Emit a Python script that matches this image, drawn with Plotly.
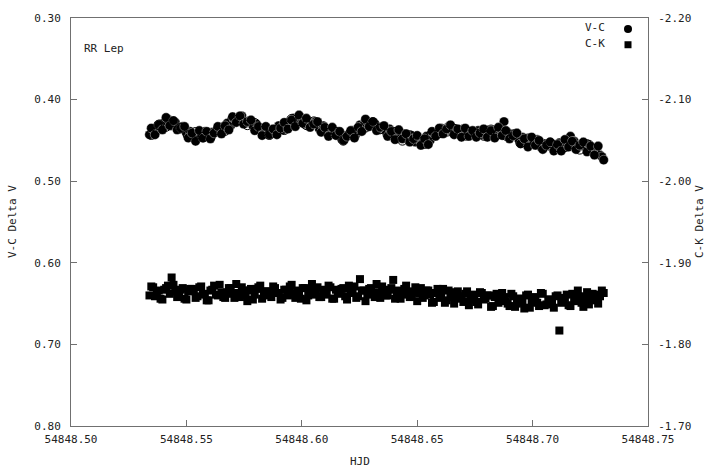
import plotly.graph_objects as go

# ---- data ----
hjd = [
    54848.5340, 54848.5356, 54848.5372, 54848.5388, 54848.5404, 54848.5420, 54848.5436, 54848.5452, 54848.5468, 54848.5484,
    54848.5500, 54848.5516, 54848.5532, 54848.5548, 54848.5564, 54848.5580, 54848.5596, 54848.5612, 54848.5628, 54848.5644,
    54848.5660, 54848.5676, 54848.5692, 54848.5708, 54848.5724, 54848.5740, 54848.5756, 54848.5772, 54848.5788, 54848.5804,
    54848.5820, 54848.5836, 54848.5852, 54848.5868, 54848.5884, 54848.5900, 54848.5916, 54848.5932, 54848.5948, 54848.5964,
    54848.5980, 54848.5996, 54848.6012, 54848.6028, 54848.6044, 54848.6060, 54848.6076, 54848.6092, 54848.6108, 54848.6124,
    54848.6140, 54848.6156, 54848.6172, 54848.6188, 54848.6204, 54848.6220, 54848.6236, 54848.6252, 54848.6268, 54848.6284,
    54848.6300, 54848.6316, 54848.6332, 54848.6348, 54848.6364, 54848.6380, 54848.6396, 54848.6412, 54848.6428, 54848.6444,
    54848.6460, 54848.6476, 54848.6492, 54848.6508, 54848.6524, 54848.6540, 54848.6556, 54848.6572, 54848.6588, 54848.6604,
    54848.6620, 54848.6636, 54848.6652, 54848.6668, 54848.6684, 54848.6700, 54848.6716, 54848.6732, 54848.6748, 54848.6764,
    54848.6780, 54848.6796, 54848.6812, 54848.6828, 54848.6844, 54848.6860, 54848.6876, 54848.6892, 54848.6908, 54848.6924,
    54848.6940, 54848.6956, 54848.6972, 54848.6988, 54848.7004, 54848.7020, 54848.7036, 54848.7052, 54848.7068, 54848.7084,
    54848.7100, 54848.7116, 54848.7132, 54848.7148, 54848.7164, 54848.7180, 54848.7196, 54848.7212, 54848.7228, 54848.7244,
    54848.7260, 54848.7276, 54848.7292, 54848.7300, 54848.7308,
]

vc_delta_v = [
    0.443, 0.436, 0.438, 0.430, 0.428, 0.424, 0.432, 0.428, 0.434, 0.433,
    0.441, 0.439, 0.447, 0.443, 0.444, 0.439, 0.446, 0.440, 0.440, 0.434,
    0.437, 0.429, 0.432, 0.424, 0.424, 0.420, 0.429, 0.426, 0.432, 0.430,
    0.438, 0.435, 0.443, 0.440, 0.439, 0.432, 0.437, 0.429, 0.429, 0.423,
    0.427, 0.422, 0.430, 0.427, 0.429, 0.427, 0.436, 0.432, 0.438, 0.436,
    0.442, 0.439, 0.448, 0.444, 0.444, 0.438, 0.442, 0.431, 0.431, 0.427,
    0.432, 0.429, 0.437, 0.434, 0.438, 0.436, 0.444, 0.440, 0.445, 0.442,
    0.448, 0.444, 0.452, 0.449, 0.450, 0.445, 0.450, 0.441, 0.441, 0.435,
    0.438, 0.433, 0.440, 0.436, 0.438, 0.436, 0.445, 0.440, 0.442, 0.438,
    0.443, 0.437, 0.444, 0.439, 0.440, 0.436, 0.427, 0.440, 0.444, 0.442,
    0.449, 0.446, 0.454, 0.450, 0.452, 0.449, 0.458, 0.454, 0.457, 0.454,
    0.459, 0.453, 0.459, 0.454, 0.445, 0.451, 0.459, 0.454, 0.458, 0.455,
    0.462, 0.459, 0.468, 0.470, 0.474,
]

ck_delta_v = [
    -1.860, -1.870, -1.863, -1.856, -1.867, -1.872, -1.882, -1.865, -1.862, -1.869, -1.855, -1.868,
    -1.866, -1.859, -1.871, -1.862, -1.854, -1.867, -1.861, -1.873, -1.858, -1.864, -1.869, -1.857,
    -1.863, -1.870, -1.860, -1.866, -1.855, -1.868, -1.872, -1.861, -1.865, -1.858, -1.869, -1.863,
    -1.857, -1.867, -1.871, -1.862, -1.866, -1.856, -1.869, -1.860, -1.874, -1.864, -1.858, -1.867,
    -1.861, -1.870, -1.856, -1.865, -1.868, -1.859, -1.872, -1.863, -1.857, -1.880, -1.866, -1.861,
    -1.869, -1.858, -1.864, -1.871, -1.860, -1.867, -1.879, -1.862, -1.856, -1.868, -1.865, -1.859,
    -1.870, -1.863, -1.857, -1.866, -1.861, -1.852, -1.868, -1.862, -1.851, -1.866, -1.858, -1.864,
    -1.859, -1.852, -1.865, -1.855, -1.861, -1.849, -1.863, -1.856, -1.860, -1.847, -1.862, -1.854,
    -1.858, -1.850, -1.862, -1.846, -1.856, -1.852, -1.860, -1.845, -1.857, -1.851, -1.863, -1.848,
    -1.855, -1.850, -1.859, -1.817, -1.853, -1.861, -1.847, -1.856, -1.866, -1.851, -1.858, -1.849,
    -1.862, -1.854, -1.859, -1.866, -1.863,
]

# second block of exposures, interleaved in time with the first
hjd_b = [
    54848.5348, 54848.5364, 54848.5380, 54848.5396, 54848.5412, 54848.5428, 54848.5444, 54848.5460, 54848.5476, 54848.5492,
    54848.5508, 54848.5524, 54848.5540, 54848.5556, 54848.5572, 54848.5588, 54848.5604, 54848.5620, 54848.5636, 54848.5652,
    54848.5668, 54848.5684, 54848.5700, 54848.5716, 54848.5732, 54848.5748, 54848.5764, 54848.5780, 54848.5796, 54848.5812,
    54848.5828, 54848.5844, 54848.5860, 54848.5876, 54848.5892, 54848.5908, 54848.5924, 54848.5940, 54848.5956, 54848.5972,
    54848.5988, 54848.6004, 54848.6020, 54848.6036, 54848.6052, 54848.6068, 54848.6084, 54848.6100, 54848.6116, 54848.6132,
    54848.6148, 54848.6164, 54848.6180, 54848.6196, 54848.6212, 54848.6228, 54848.6244, 54848.6260, 54848.6276, 54848.6292,
    54848.6308, 54848.6324, 54848.6340, 54848.6356, 54848.6372, 54848.6388, 54848.6404, 54848.6420, 54848.6436, 54848.6452,
    54848.6468, 54848.6484, 54848.6500, 54848.6516, 54848.6532, 54848.6548, 54848.6564, 54848.6580, 54848.6596, 54848.6612,
    54848.6628, 54848.6644, 54848.6660, 54848.6676, 54848.6692, 54848.6708, 54848.6724, 54848.6740, 54848.6756, 54848.6772,
    54848.6788, 54848.6804, 54848.6820, 54848.6836, 54848.6852, 54848.6868, 54848.6884, 54848.6900, 54848.6916, 54848.6932,
    54848.6948, 54848.6964, 54848.6980, 54848.6996, 54848.7012, 54848.7028, 54848.7044, 54848.7060, 54848.7076, 54848.7092,
    54848.7108, 54848.7124, 54848.7140, 54848.7156, 54848.7172, 54848.7188, 54848.7204, 54848.7220, 54848.7236, 54848.7252,
    54848.7268, 54848.7284,
]

vc_delta_v_b = [
    0.435, 0.443, 0.431, 0.437, 0.422, 0.432, 0.426, 0.437, 0.435, 0.433,
    0.447, 0.441, 0.451, 0.438, 0.447, 0.439, 0.448, 0.441, 0.433, 0.442,
    0.432, 0.437, 0.421, 0.428, 0.420, 0.430, 0.427, 0.425, 0.438, 0.433,
    0.444, 0.433, 0.443, 0.436, 0.443, 0.435, 0.428, 0.436, 0.425, 0.433,
    0.419, 0.429, 0.423, 0.434, 0.430, 0.427, 0.440, 0.434, 0.445, 0.434,
    0.444, 0.439, 0.450, 0.445, 0.438, 0.447, 0.434, 0.439, 0.424, 0.433,
    0.427, 0.438, 0.434, 0.432, 0.445, 0.439, 0.449, 0.437, 0.448, 0.442,
    0.452, 0.448, 0.444, 0.456, 0.448, 0.455, 0.439, 0.445, 0.435, 0.442,
    0.436, 0.431, 0.443, 0.436, 0.446, 0.435, 0.445, 0.438, 0.446, 0.441,
    0.436, 0.446, 0.438, 0.447, 0.434, 0.444, 0.438, 0.448, 0.444, 0.441,
    0.454, 0.448, 0.458, 0.446, 0.456, 0.450, 0.461, 0.456, 0.452, 0.463,
    0.455, 0.463, 0.449, 0.458, 0.451, 0.461, 0.456, 0.452, 0.464, 0.457,
    0.468, 0.457,
]

ck_delta_v_b = [
    -1.871, -1.859, -1.866, -1.855, -1.869, -1.862, -1.873, -1.858, -1.867, -1.856, -1.865,
    -1.868, -1.857, -1.870, -1.861, -1.854, -1.866, -1.872, -1.860, -1.863, -1.857, -1.869,
    -1.862, -1.874, -1.858, -1.866, -1.853, -1.868, -1.861, -1.870, -1.856, -1.865, -1.860,
    -1.871, -1.863, -1.855, -1.867, -1.860, -1.873, -1.857, -1.864, -1.869, -1.854, -1.866,
    -1.861, -1.870, -1.858, -1.865, -1.872, -1.856, -1.867, -1.862, -1.869, -1.855, -1.864,
    -1.871, -1.859, -1.866, -1.853, -1.868, -1.862, -1.874, -1.857, -1.865, -1.860, -1.869,
    -1.856, -1.866, -1.861, -1.872, -1.858, -1.864, -1.853, -1.869, -1.860, -1.866, -1.851,
    -1.863, -1.857, -1.868, -1.854, -1.861, -1.850, -1.865, -1.856, -1.862, -1.848, -1.859,
    -1.852, -1.864, -1.855, -1.860, -1.846, -1.858, -1.851, -1.863, -1.853, -1.847, -1.859,
    -1.850, -1.856, -1.844, -1.861, -1.852, -1.858, -1.847, -1.862, -1.849, -1.855, -1.845,
    -1.860, -1.851, -1.857, -1.848, -1.862, -1.853, -1.859, -1.846, -1.864, -1.855, -1.861, -1.850,
]

# V-C points that show as open rings around the filled ones
hjd_ring = [
    54848.5348, 54848.5380, 54848.5412, 54848.5444, 54848.5476, 54848.5508, 54848.5540, 54848.5572, 54848.5604, 54848.5636,
    54848.5668, 54848.5700, 54848.5732, 54848.5764, 54848.5796, 54848.5828, 54848.5860, 54848.5892, 54848.5924, 54848.5956,
    54848.5988, 54848.6020, 54848.6052, 54848.6084, 54848.6116, 54848.6148, 54848.6180, 54848.6212, 54848.6244, 54848.6276,
    54848.6308, 54848.6340, 54848.6372, 54848.6404, 54848.6436, 54848.6468, 54848.6500, 54848.6532, 54848.6564, 54848.6596,
    54848.6628, 54848.6660, 54848.6692, 54848.6724, 54848.6756, 54848.6788, 54848.6820, 54848.6852, 54848.6884, 54848.6916,
    54848.6948, 54848.6980, 54848.7012, 54848.7044, 54848.7076, 54848.7108, 54848.7140, 54848.7172, 54848.7204, 54848.7236,
    54848.7268,
]
vc_ring = [
    0.443, 0.431, 0.433, 0.427, 0.435, 0.444, 0.440, 0.446, 0.446, 0.437,
    0.438, 0.424, 0.425, 0.431, 0.429, 0.439, 0.443, 0.437, 0.437, 0.424,
    0.426, 0.431, 0.427, 0.436, 0.441, 0.440, 0.450, 0.441, 0.437, 0.434,
    0.428, 0.436, 0.442, 0.440, 0.450, 0.444, 0.450, 0.454, 0.442, 0.441,
    0.439, 0.436, 0.444, 0.440, 0.442, 0.444, 0.437, 0.442, 0.444, 0.443,
    0.453, 0.448, 0.453, 0.459, 0.453, 0.458, 0.458, 0.454, 0.461, 0.455,
    0.461,
]

x_tickvals = [54848.50, 54848.55, 54848.60, 54848.65, 54848.70, 54848.75]
x_ticktext = ["54848.50", "54848.55", "54848.60", "54848.65", "54848.70", "54848.75"]
y_tickvals = [0.30, 0.40, 0.50, 0.60, 0.70, 0.80]
y_ticktext = ["0.30", "0.40", "0.50", "0.60", "0.70", "0.80"]
y2_tickvals = [-2.20, -2.10, -2.00, -1.90, -1.80, -1.70]
y2_ticktext = ["-2.20", "-2.10", "-2.00", "-1.90", "-1.80", "-1.70"]

FONT = "DejaVu Sans Mono"
TXT = "#222222"
AX = "#707070"

fig = go.Figure()
fig.add_trace(go.Scatter(
    x=hjd + hjd_b, y=ck_delta_v + ck_delta_v_b, mode="markers", name="C-K", yaxis="y2",
    marker=dict(symbol="square", size=8, color="black", line=dict(width=0)),
))
fig.add_trace(go.Scatter(
    x=hjd + hjd_b, y=vc_delta_v + vc_delta_v_b, mode="markers", name="V-C",
    marker=dict(symbol="circle", size=9.5, color="black",
                line=dict(width=0.6, color="rgba(255,255,255,0.6)")),
))
fig.add_trace(go.Scatter(
    x=hjd_ring, y=vc_ring, mode="markers", name="V-C ring", showlegend=False,
    marker=dict(symbol="circle-open", size=9.5, color="black", line=dict(width=1)),
))

W, H = 712, 471
L, R, T, B = 71, 64, 14, 45
pw, ph = W - L - R, H - T - B


def px(x):
    return (x - L) / pw


def py(y):
    return (H - B - y) / ph


fig.update_layout(
    width=W, height=H,
    margin=dict(l=L, r=R, t=T, b=B, pad=0),
    paper_bgcolor="white", plot_bgcolor="white",
    showlegend=False,
    font=dict(family=FONT, size=11, color=TXT),
    xaxis=dict(
        range=[54848.50, 54848.75], tickvals=x_tickvals, ticktext=x_ticktext,
        showgrid=False, zeroline=False, showline=True, linecolor=AX, linewidth=1,
        mirror=True, ticks="inside", ticklen=6, tickcolor=AX, ticklabelstandoff=3,
        tickfont=dict(family=FONT, size=11, color=TXT),
    ),
    yaxis=dict(
        range=[0.80, 0.30], tickvals=y_tickvals, ticktext=y_ticktext,
        showgrid=False, zeroline=False, showline=True, linecolor=AX, linewidth=1,
        ticks="inside", ticklen=6, tickcolor=AX, ticklabelstandoff=7,
        tickfont=dict(family=FONT, size=11, color=TXT),
    ),
    yaxis2=dict(
        range=[-1.70, -2.20], tickvals=y2_tickvals, ticktext=y2_ticktext,
        overlaying="y", side="right",
        showgrid=False, zeroline=False, showline=True, linecolor=AX, linewidth=1,
        ticks="inside", ticklen=6, tickcolor=AX, ticklabelstandoff=7,
        tickfont=dict(family=FONT, size=11, color=TXT),
    ),
    annotations=[
        dict(text="V-C Delta V", xref="paper", yref="paper", x=px(12), y=py(220),
             textangle=-90, showarrow=False, xanchor="center", yanchor="middle"),
        dict(text="C-K Delta V", xref="paper", yref="paper", x=px(699), y=py(220),
             textangle=-90, showarrow=False, xanchor="center", yanchor="middle"),
        dict(text="HJD", xref="paper", yref="paper", x=0.5, y=py(462),
             showarrow=False, xanchor="center", yanchor="middle"),
        dict(text="RR Lep", xref="paper", yref="paper", x=px(82), y=py(45),
             showarrow=False, xanchor="left", yanchor="middle"),
        dict(text="V-C", xref="paper", yref="paper", x=px(607), y=py(24),
             showarrow=False, xanchor="right", yanchor="middle"),
        dict(text="C-K", xref="paper", yref="paper", x=px(607), y=py(40),
             showarrow=False, xanchor="right", yanchor="middle"),
    ],
    shapes=[
        dict(type="circle", xref="paper", yref="paper", xsizemode="pixel", ysizemode="pixel",
             xanchor=px(628), yanchor=py(25), x0=-4, x1=4, y0=-4, y1=4,
             fillcolor="black", line=dict(width=0)),
        dict(type="rect", xref="paper", yref="paper", xsizemode="pixel", ysizemode="pixel",
             xanchor=px(628), yanchor=py(41), x0=-3.5, x1=3.5, y0=-3.5, y1=3.5,
             fillcolor="black", line=dict(width=0)),
    ],
)

fig.write_html("out.html")
